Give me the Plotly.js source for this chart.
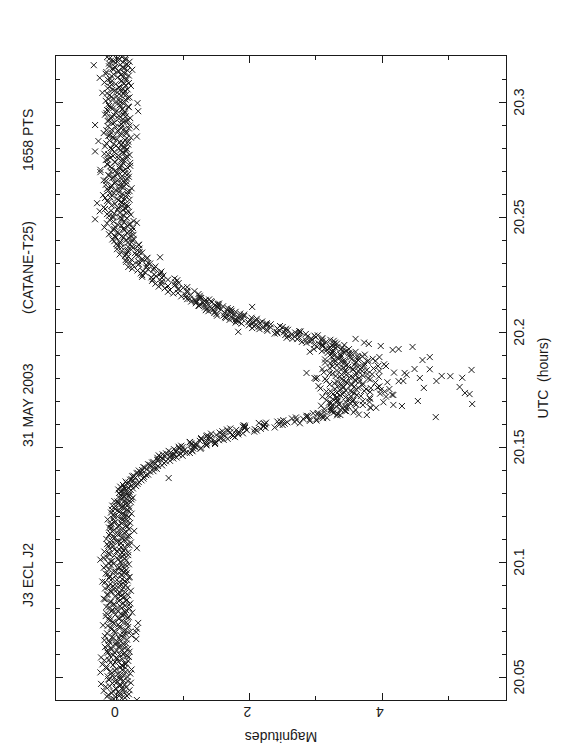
<!DOCTYPE html>
<html><head><meta charset="utf-8">
<script src="https://cdn.plot.ly/plotly-3.0.1.min.js"></script>
<style>
html,body{margin:0;padding:0;width:562px;height:756px;overflow:hidden;background:#fff}
#wrap{position:absolute;left:0;top:0;width:756px;height:562px;transform-origin:0 0;transform:translate(0px,756px) rotate(-90deg);}
</style></head><body>
<div id="wrap"><div id="plot" style="width:756px;height:562px"></div></div>
<script>
// Header texts
const headerText = ['J3 ECL J2', '31 MAY 2003', '(CATANE-T25)', '1658 PTS'];
const headerPos = [0.194, 0.458, 0.671, 0.870];

// Axis ticks
const utcTicks = [20.05, 20.1, 20.15, 20.2, 20.25, 20.3];
const utcTickText = ['20.05', '20.1', '20.15', '20.2', '20.25', '20.3'];
const magTicks = [0, 2, 4];
const magTickText = ['0', '2', '4'];

// Pre-eclipse baseline (set A)
const utcPre = [20.04,20.0405,20.041,20.0415,20.042,20.0425,20.043,20.0435,20.044,20.0445,
20.045,20.0455,20.046,20.0465,20.047,20.0475,20.048,20.0485,20.049,20.0495,
20.05,20.0505,20.051,20.0515,20.052,20.0525,20.053,20.0535,20.054,20.0545,
20.055,20.0555,20.056,20.0565,20.057,20.0575,20.058,20.0585,20.059,20.0595,
20.06,20.0605,20.061,20.0615,20.062,20.0625,20.063,20.0635,20.064,20.0645,
20.065,20.0655,20.066,20.0665,20.067,20.0675,20.068,20.0685,20.069,20.0695,
20.07,20.0705,20.071,20.0715,20.072,20.0725,20.073,20.0735,20.074,20.0745,
20.075,20.0755,20.076,20.0765,20.077,20.0775,20.078,20.0785,20.079,20.0795,
20.08,20.0805,20.081,20.0815,20.082,20.0825,20.083,20.0835,20.084,20.0845,
20.085,20.0855,20.086,20.0865,20.087,20.0875,20.088,20.0885,20.089,20.0895,
20.09,20.0905,20.091,20.0915,20.092,20.0925,20.093,20.0935,20.094,20.0945,
20.095,20.0955,20.096,20.0965,20.097,20.0975,20.098,20.0985,20.099,20.0995,
20.1,20.1005,20.101,20.1015,20.102,20.1025,20.103,20.1035,20.104,20.1045,
20.105,20.1055,20.106,20.1065,20.107,20.1075,20.108,20.1085,20.109,20.1095,
20.11,20.1105,20.111,20.1115,20.112,20.1125,20.113,20.1135,20.114,20.1145,
20.115,20.1155,20.116,20.1165,20.117,20.1175,20.118,20.1185,20.119,20.1195,
20.12,20.1205,20.121,20.1215,20.122,20.1225,20.123,20.1235,20.124,20.1245,
20.125,20.1255,20.126,20.1265,20.127,20.1275,20.128,20.1285,20.129,20.1295];
const magPre = [0.30,-0.05,0.12,-0.15,0.04,0.18,-0.08,0.02,-0.20,0.09,
-0.02,0.14,-0.11,0.06,-0.24,0.21,-0.04,0.10,-0.13,0.03,
0.16,-0.07,0.05,0.20,-0.25,-0.10,0.08,-0.01,0.13,-0.16,
0.07,-0.22,0.11,-0.03,0.17,-0.12,0.01,-0.24,0.15,-0.06,
0.09,-0.14,0.19,0.00,-0.09,0.12,-0.18,0.05,-0.02,0.14,
-0.11,0.06,-0.19,0.29,0.03,-0.07,0.22,0.10,-0.15,0.29,
-0.04,0.13,0.30,-0.09,0.04,-0.21,0.16,0.32,-0.06,0.08,
-0.13,0.02,0.18,-0.17,0.11,0.06,0.23,-0.08,0.14,-0.01,
0.07,-0.16,0.12,-0.05,0.20,-0.11,0.03,0.15,-0.20,0.09,
-0.03,0.17,-0.14,0.05,-0.08,0.21,0.00,-0.18,0.10,-0.06,
0.13,-0.10,0.04,-0.22,0.16,0.08,-0.12,0.19,-0.02,0.06,
-0.17,0.11,-0.05,0.14,0.02,-0.20,0.09,-0.09,0.18,-0.13,
0.05,-0.07,-0.25,0.12,-0.15,0.03,0.17,-0.11,0.08,-0.19,
0.10,-0.04,0.30,0.06,-0.13,0.15,-0.08,0.21,-0.01,0.11,
-0.16,0.07,-0.06,0.19,0.01,-0.10,0.14,0.26,-0.04,0.09,
-0.12,0.16,0.03,-0.08,0.20,-0.02,0.12,-0.14,0.07,0.18,
-0.05,0.10,0.22,-0.09,0.04,0.15,-0.03,0.19,0.08,-0.07,
0.13,0.02,0.21,-0.04,0.16,0.07,0.24,0.11,0.05,0.19];

// Pre-eclipse baseline (set B, interleaved)
const utcPreB = [20.04025,20.04075,20.04125,20.04175,20.04225,20.04275,20.04325,20.04375,20.04425,20.04475,
20.04525,20.04575,20.04625,20.04675,20.04725,20.04775,20.04825,20.04875,20.04925,20.04975,
20.05025,20.05075,20.05125,20.05175,20.05225,20.05275,20.05325,20.05375,20.05425,20.05475,
20.05525,20.05575,20.05625,20.05675,20.05725,20.05775,20.05825,20.05875,20.05925,20.05975,
20.06025,20.06075,20.06125,20.06175,20.06225,20.06275,20.06325,20.06375,20.06425,20.06475,
20.06525,20.06575,20.06625,20.06675,20.06725,20.06775,20.06825,20.06875,20.06925,20.06975,
20.07025,20.07075,20.07125,20.07175,20.07225,20.07275,20.07325,20.07375,20.07425,20.07475,
20.07525,20.07575,20.07625,20.07675,20.07725,20.07775,20.07825,20.07875,20.07925,20.07975,
20.08025,20.08075,20.08125,20.08175,20.08225,20.08275,20.08325,20.08375,20.08425,20.08475,
20.08525,20.08575,20.08625,20.08675,20.08725,20.08775,20.08825,20.08875,20.08925,20.08975,
20.09025,20.09075,20.09125,20.09175,20.09225,20.09275,20.09325,20.09375,20.09425,20.09475,
20.09525,20.09575,20.09625,20.09675,20.09725,20.09775,20.09825,20.09875,20.09925,20.09975,
20.10025,20.10075,20.10125,20.10175,20.10225,20.10275,20.10325,20.10375,20.10425,20.10475,
20.10525,20.10575,20.10625,20.10675,20.10725,20.10775,20.10825,20.10875,20.10925,20.10975,
20.11025,20.11075,20.11125,20.11175,20.11225,20.11275,20.11325,20.11375,20.11425,20.11475,
20.11525,20.11575,20.11625,20.11675,20.11725,20.11775,20.11825,20.11875,20.11925,20.11975,
20.12025,20.12075,20.12125,20.12175,20.12225,20.12275,20.12325,20.12375,20.12425,20.12475,
20.12525,20.12575,20.12625,20.12675,20.12725,20.12775,20.12825,20.12875,20.12925,20.12975];
const magPreB = [-0.09,0.07,-0.02,0.15,-0.13,0.04,0.11,-0.06,0.19,-0.01,
0.08,-0.17,0.03,0.12,-0.07,0.00,0.16,-0.12,0.06,-0.04,
-0.14,0.10,0.01,-0.08,0.13,-0.03,0.22,-0.16,0.05,0.09,
-0.06,0.14,-0.10,0.02,-0.19,0.08,-0.01,0.18,-0.11,0.04,
0.12,-0.04,-0.15,0.07,0.17,-0.09,0.03,-0.13,0.10,-0.02,
0.01,-0.12,0.15,-0.06,0.09,-0.18,0.05,0.13,-0.03,0.20,
0.11,-0.08,0.04,0.17,-0.14,0.02,-0.05,0.14,0.07,-0.10,
0.03,0.16,-0.11,0.08,-0.02,-0.16,0.12,0.01,-0.07,0.19,
-0.12,0.05,0.18,-0.04,0.09,-0.09,0.14,-0.18,0.02,0.11,
0.06,-0.15,0.01,0.13,-0.10,0.07,-0.05,0.16,-0.13,0.04,
-0.03,0.09,-0.18,0.12,0.00,-0.07,0.18,-0.11,0.08,-0.14,
0.15,-0.02,0.07,-0.12,0.11,0.03,-0.16,0.13,-0.05,0.06,
-0.09,0.14,0.02,-0.20,0.08,-0.04,0.10,-0.13,0.17,0.00,
0.04,-0.11,0.12,-0.06,0.19,-0.15,0.06,0.02,-0.08,0.15,
0.09,-0.03,0.16,-0.12,0.05,0.11,-0.07,0.03,0.18,-0.09,
0.02,0.13,-0.10,0.07,-0.04,0.16,0.08,-0.06,0.12,0.01,
0.14,-0.05,0.09,0.03,0.18,-0.08,0.11,0.06,-0.02,0.16,
0.07,0.15,0.01,0.12,0.22,0.04,0.10,0.18,0.14,0.09];

// Start of ingress (sets A and B)
const utcIngress = [20.13,20.1305,20.131,20.1315,20.132,20.1325,20.133,20.1335,20.134,20.1345,
20.135,20.1355,20.136,20.1365,20.137,20.1375,20.138,20.1385,20.139,20.1395,
20.14,20.1405,20.141,20.1415,20.142,20.1425,20.143,20.1435,20.144,20.1445];
const magIngress = [0.03,0.19,0.08,0.02,0.24,0.11,0.29,0.09,0.31,0.18,
0.13,0.37,0.22,0.78,0.41,0.25,0.47,0.30,0.36,0.55,
0.38,0.60,0.42,0.51,0.68,0.47,0.71,0.55,0.80,0.62];
const utcIngressB = [20.13025,20.13075,20.13125,20.13175,20.13225,20.13275,20.13325,20.13375,20.13425,20.13475,
20.13525,20.13575,20.13625,20.13675,20.13725,20.13775,20.13825,20.13875,20.13925,20.13975,
20.14025,20.14075,20.14125,20.14175,20.14225,20.14275,20.14325,20.14375,20.14425,20.14475];
const magIngressB = [0.14,0.06,0.21,0.12,0.17,0.05,0.22,0.26,0.15,0.33,
0.24,0.20,0.40,0.28,0.23,0.44,0.36,0.31,0.50,0.33,
0.45,0.56,0.40,0.62,0.50,0.58,0.53,0.74,0.61,0.70];

// Steep ingress, minimum and steep egress (set A)
const utcCore = [20.145,20.1453,20.1456,20.1459,20.1462,20.1465,20.1468,20.1471,20.1474,20.1477,
20.148,20.1483,20.1486,20.1489,20.1492,20.1495,20.1498,20.1501,20.1504,20.1507,
20.151,20.1513,20.1516,20.1519,20.1522,20.1525,20.1528,20.1531,20.1534,20.1537,
20.154,20.1543,20.1546,20.1549,20.1552,20.1555,20.1558,20.1561,20.1564,20.1567,
20.157,20.1573,20.1576,20.1579,20.1582,20.1585,20.1588,20.1591,20.1594,20.1597,
20.16,20.1603,20.1606,20.1609,20.1612,20.1615,20.1618,20.1621,20.1624,20.1627,
20.163,20.1633,20.1636,20.1639,20.1642,20.1645,20.1648,20.1651,20.1654,20.1657,
20.166,20.1663,20.1666,20.1669,20.1672,20.1675,20.1678,20.1681,20.1684,20.1687,
20.169,20.1693,20.1696,20.1699,20.1702,20.1705,20.1708,20.1711,20.1714,20.1717,
20.172,20.1723,20.1726,20.1729,20.1732,20.1735,20.1738,20.1741,20.1744,20.1747,
20.175,20.1753,20.1756,20.1759,20.1762,20.1765,20.1768,20.1771,20.1774,20.1777,
20.178,20.1783,20.1786,20.1789,20.1792,20.1795,20.1798,20.1801,20.1804,20.1807,
20.181,20.1813,20.1816,20.1819,20.1822,20.1825,20.1828,20.1831,20.1834,20.1837,
20.184,20.1843,20.1846,20.1849,20.1852,20.1855,20.1858,20.1861,20.1864,20.1867,
20.187,20.1873,20.1876,20.1879,20.1882,20.1885,20.1888,20.1891,20.1894,20.1897,
20.19,20.1903,20.1906,20.1909,20.1912,20.1915,20.1918,20.1921,20.1924,20.1927,
20.193,20.1933,20.1936,20.1939,20.1942,20.1945,20.1948,20.1951,20.1954,20.1957,
20.196,20.1963,20.1966,20.1969,20.1972,20.1975,20.1978,20.1981,20.1984,20.1987,
20.199,20.1993,20.1996,20.1999,20.2002,20.2005,20.2008,20.2011,20.2014,20.2017,
20.202,20.2023,20.2026,20.2029,20.2032,20.2035,20.2038,20.2041,20.2044,20.2047,
20.205,20.2053,20.2056,20.2059,20.2062,20.2065,20.2068,20.2071,20.2074,20.2077,
20.208,20.2083,20.2086,20.2089,20.2092,20.2095,20.2098,20.2101,20.2104,20.2107,
20.211,20.2113,20.2116,20.2119,20.2122,20.2125,20.2128,20.2131,20.2134,20.2137,
20.214,20.2143,20.2146];
const magCore = [0.85,0.61,0.80,0.72,0.99,0.81,0.69,0.96,1.10,0.81,
1.00,0.78,1.13,0.98,1.26,0.94,1.18,0.93,1.16,1.35,
1.12,1.48,1.12,1.35,1.10,1.48,1.35,1.61,1.27,1.56,
1.42,1.78,1.35,1.63,1.50,1.83,1.42,1.83,1.71,2.07,
1.67,1.96,1.66,2.17,1.93,2.38,1.90,2.22,1.91,2.45,
2.23,2.76,2.25,2.68,2.47,3.01,2.71,3.01,2.64,3.17,
2.86,3.11,2.86,3.37,3.08,3.33,3.03,3.57,3.24,3.44,
3.25,3.37,3.23,3.46,3.82,3.31,3.45,3.24,3.61,3.36,
3.52,3.20,3.45,3.71,3.33,3.57,3.26,3.49,3.81,3.32,
3.53,3.19,3.62,3.40,3.97,3.32,3.54,3.16,3.73,3.45,
3.61,3.29,3.83,3.41,3.58,3.04,3.70,3.39,3.54,3.28,
3.90,3.46,3.66,3.16,3.59,3.39,3.79,3.02,3.55,3.36,
3.71,3.46,3.85,3.25,3.61,3.12,3.65,3.44,3.77,3.38,
3.56,3.21,3.69,3.49,3.94,3.32,3.58,3.42,3.73,3.14,
3.61,3.44,3.79,3.27,3.54,3.35,3.64,3.38,3.70,3.28,
3.51,3.37,3.54,3.18,3.42,3.25,3.46,3.26,3.38,3.15,
3.30,3.22,3.33,3.11,3.24,2.98,3.27,3.04,3.29,2.79,
3.10,2.85,3.22,2.72,2.93,2.56,3.00,2.68,2.98,2.54,
2.74,2.38,2.75,2.52,2.77,2.27,2.54,2.26,2.55,2.04,
2.32,2.14,2.46,1.99,2.26,2.04,2.26,1.79,2.06,1.83,
2.10,1.70,1.89,1.75,2.03,1.63,1.87,1.51,1.77,1.65,
1.86,1.47,1.71,1.48,1.73,1.34,1.57,1.43,1.67,1.33,
1.52,1.24,1.53,1.33,1.52,1.19,1.34,1.19,1.42,1.19,
1.34,1.06,1.25];

// Steep ingress, minimum and steep egress (set B, interleaved)
const utcCoreB = [20.14515,20.14545,20.14575,20.14605,20.14635,20.14665,20.14695,20.14725,20.14755,20.14785,
20.14815,20.14845,20.14875,20.14905,20.14935,20.14965,20.14995,20.15025,20.15055,20.15085,
20.15115,20.15145,20.15175,20.15205,20.15235,20.15265,20.15295,20.15325,20.15355,20.15385,
20.15415,20.15445,20.15475,20.15505,20.15535,20.15565,20.15595,20.15625,20.15655,20.15685,
20.15715,20.15745,20.15775,20.15805,20.15835,20.15865,20.15895,20.15925,20.15955,20.15985,
20.16015,20.16045,20.16075,20.16105,20.16135,20.16165,20.16195,20.16225,20.16255,20.16285,
20.16315,20.16345,20.16375,20.16405,20.16435,20.16465,20.16495,20.16525,20.16555,20.16585,
20.16615,20.16645,20.16675,20.16705,20.16735,20.16765,20.16795,20.16825,20.16855,20.16885,
20.16915,20.16945,20.16975,20.17005,20.17035,20.17065,20.17095,20.17125,20.17155,20.17185,
20.17215,20.17245,20.17275,20.17305,20.17335,20.17365,20.17395,20.17425,20.17455,20.17485,
20.17515,20.17545,20.17575,20.17605,20.17635,20.17665,20.17695,20.17725,20.17755,20.17785,
20.17815,20.17845,20.17875,20.17905,20.17935,20.17965,20.17995,20.18025,20.18055,20.18085,
20.18115,20.18145,20.18175,20.18205,20.18235,20.18265,20.18295,20.18325,20.18355,20.18385,
20.18415,20.18445,20.18475,20.18505,20.18535,20.18565,20.18595,20.18625,20.18655,20.18685,
20.18715,20.18745,20.18775,20.18805,20.18835,20.18865,20.18895,20.18925,20.18955,20.18985,
20.19015,20.19045,20.19075,20.19105,20.19135,20.19165,20.19195,20.19225,20.19255,20.19285,
20.19315,20.19345,20.19375,20.19405,20.19435,20.19465,20.19495,20.19525,20.19555,20.19585,
20.19615,20.19645,20.19675,20.19705,20.19735,20.19765,20.19795,20.19825,20.19855,20.19885,
20.19915,20.19945,20.19975,20.20005,20.20035,20.20065,20.20095,20.20125,20.20155,20.20185,
20.20215,20.20245,20.20275,20.20305,20.20335,20.20365,20.20395,20.20425,20.20455,20.20485,
20.20515,20.20545,20.20575,20.20605,20.20635,20.20665,20.20695,20.20725,20.20755,20.20785,
20.20815,20.20845,20.20875,20.20905,20.20935,20.20965,20.20995,20.21025,20.21055,20.21085,
20.21115,20.21145,20.21175,20.21205,20.21235,20.21265,20.21295,20.21325,20.21355,20.21385,
20.21415,20.21445,20.21475];
const magCoreB = [0.68,0.90,0.65,0.85,0.63,0.93,0.86,0.74,1.05,0.89,
1.14,0.89,1.02,0.86,1.15,1.27,0.99,1.18,0.97,1.20,
1.35,1.18,1.48,1.10,1.42,1.25,1.54,1.39,1.67,1.27,
1.57,1.39,1.75,1.36,1.74,1.59,1.90,1.55,1.84,1.59,
2.11,1.80,2.08,1.71,2.24,1.93,2.21,1.93,2.50,2.23,
2.53,2.14,2.57,2.42,2.91,2.51,2.91,2.81,3.11,2.70,
3.09,2.88,3.32,3.03,3.33,2.96,3.27,3.13,3.46,3.22,
3.60,3.13,3.41,3.91,3.23,3.49,3.08,3.71,3.34,3.59,
3.23,4.02,3.33,3.56,3.16,3.51,3.82,3.31,3.45,3.10,
3.68,3.37,4.15,3.26,3.58,3.43,3.82,3.22,3.53,3.36,
3.76,3.07,3.64,3.42,3.96,3.34,3.54,3.21,3.71,3.47,
4.08,3.32,3.60,3.42,3.82,3.14,3.65,3.51,3.95,3.30,
3.60,3.39,3.78,3.21,4.18,3.46,3.70,3.32,3.56,3.10,
3.87,3.42,3.64,3.25,3.73,3.47,4.03,3.34,3.60,3.27,
3.78,3.41,3.64,3.14,3.86,3.33,3.52,3.24,3.63,3.38,
3.74,3.23,3.50,3.26,3.60,3.09,3.41,3.17,3.50,3.20,
3.40,3.02,3.27,3.09,3.43,3.10,3.32,2.86,3.15,2.91,
3.27,2.94,3.09,2.65,3.10,2.75,2.87,2.58,3.03,2.63,
2.85,2.42,2.69,2.41,2.75,2.45,2.58,2.15,2.42,2.20,
2.50,2.07,2.25,2.09,2.32,1.88,2.16,1.98,2.19,1.80,
2.01,1.79,2.11,1.64,1.83,1.72,1.92,1.61,1.92,1.50,
1.73,1.62,1.79,1.38,1.67,1.45,1.72,1.36,1.52,1.41,
1.60,1.23,1.48,1.25,1.54,1.30,1.43,1.12,1.33,1.17,
1.39,1.10,1.27];

// End of egress (sets A and B)
const utcEgress = [20.215,20.2155,20.216,20.2165,20.217,20.2175,20.218,20.2185,20.219,20.2195,
20.22,20.2205,20.221,20.2215,20.222,20.2225,20.223,20.2235,20.224,20.2245,
20.225,20.2255,20.226,20.2265,20.227,20.2275,20.228,20.2285,20.229,20.2295,
20.23,20.2305,20.231,20.2315,20.232,20.2325,20.233,20.2335,20.234,20.2345,
20.235,20.2355,20.236,20.2365,20.237,20.2375,20.238,20.2385,20.239,20.2395,
20.24,20.2405,20.241,20.2415,20.242,20.2425,20.243,20.2435,20.244,20.2445,
20.245,20.2455,20.246,20.2465,20.247,20.2475,20.248,20.2485,20.249,20.2495];
const magEgress = [1.25,0.97,1.11,1.23,0.92,0.77,1.06,0.92,0.72,1.06,
0.77,0.88,0.58,0.88,0.68,0.91,0.54,0.68,0.38,0.70,
0.56,0.36,0.66,0.39,0.55,0.23,0.44,0.58,0.24,0.33,
0.47,0.14,0.38,0.22,0.45,0.65,0.12,0.29,0.14,0.38,
0.16,0.31,0.00,0.24,0.17,0.01,0.33,0.05,0.22,-0.04,
0.14,0.25,-0.02,0.07,0.21,-0.12,0.15,0.01,0.23,-0.06,
0.10,-0.19,0.16,0.02,0.20,0.30,-0.05,0.06,-0.33,0.15];
const utcEgressB = [20.21525,20.21575,20.21625,20.21675,20.21725,20.21775,20.21825,20.21875,20.21925,20.21975,
20.22025,20.22075,20.22125,20.22175,20.22225,20.22275,20.22325,20.22375,20.22425,20.22475,
20.22525,20.22575,20.22625,20.22675,20.22725,20.22775,20.22825,20.22875,20.22925,20.22975,
20.23025,20.23075,20.23125,20.23175,20.23225,20.23275,20.23325,20.23375,20.23425,20.23475,
20.23525,20.23575,20.23625,20.23675,20.23725,20.23775,20.23825,20.23875,20.23925,20.23975,
20.24025,20.24075,20.24125,20.24175,20.24225,20.24275,20.24325,20.24375,20.24425,20.24475,
20.24525,20.24575,20.24625,20.24675,20.24725,20.24775,20.24825,20.24875,20.24925,20.24975];
const magEgressB = [1.04,1.25,1.03,0.85,1.06,1.17,0.80,0.93,1.00,0.63,
0.87,0.67,0.93,0.67,0.53,0.77,0.87,0.52,0.59,0.38,
0.65,0.43,0.67,0.31,0.47,0.56,0.17,0.45,0.32,0.50,
0.20,0.32,0.13,0.38,0.46,0.17,0.33,0.04,0.27,0.34,
0.07,0.16,0.34,0.07,0.23,0.33,-0.01,0.16,0.05,0.24,
-0.07,0.18,0.10,-0.03,0.25,0.03,-0.09,0.18,0.11,-0.04,
0.24,-0.03,0.07,0.18,-0.15,0.11,0.25,-0.11,0.07,-0.06];

// Post-eclipse baseline (set A)
const utcPost = [20.25,20.2505,20.251,20.2515,20.252,20.2525,20.253,20.2535,20.254,20.2545,
20.255,20.2555,20.256,20.2565,20.257,20.2575,20.258,20.2585,20.259,20.2595,
20.26,20.2605,20.261,20.2615,20.262,20.2625,20.263,20.2635,20.264,20.2645,
20.265,20.2655,20.266,20.2665,20.267,20.2675,20.268,20.2685,20.269,20.2695,
20.27,20.2705,20.271,20.2715,20.272,20.2725,20.273,20.2735,20.274,20.2745,
20.275,20.2755,20.276,20.2765,20.277,20.2775,20.278,20.2785,20.279,20.2795,
20.28,20.2805,20.281,20.2815,20.282,20.2825,20.283,20.2835,20.284,20.2845,
20.285,20.2855,20.286,20.2865,20.287,20.2875,20.288,20.2885,20.289,20.2895,
20.29,20.2905,20.291,20.2915,20.292,20.2925,20.293,20.2935,20.294,20.2945,
20.295,20.2955,20.296,20.2965,20.297,20.2975,20.298,20.2985,20.299,20.2995,
20.3,20.3005,20.301,20.3015,20.302,20.3025,20.303,20.3035,20.304,20.3045,
20.305,20.3055,20.306,20.3065,20.307,20.3075,20.308,20.3085,20.309,20.3095,
20.31,20.3105,20.311,20.3115,20.312,20.3125,20.313,20.3135,20.314,20.3145,
20.315,20.3155,20.316,20.3165,20.317,20.3175,20.318,20.3185,20.319,20.3195];
const magPost = [0.05,-0.12,0.21,-0.04,0.14,-0.26,0.09,-0.18,0.02,0.17,
-0.08,0.11,-0.30,0.06,-0.15,0.19,0.00,-0.10,0.13,-0.21,
0.08,-0.05,0.16,-0.13,0.03,0.22,-0.09,0.10,-0.17,0.05,
-0.02,0.14,-0.20,0.07,-0.07,0.18,-0.12,0.01,0.12,-0.25,
0.09,-0.25,0.04,0.16,-0.10,0.06,-0.15,0.20,-0.03,0.11,
-0.14,0.02,0.13,-0.06,0.19,-0.19,0.08,-0.33,0.05,0.15,
-0.09,0.10,-0.01,0.17,-0.16,0.04,-0.28,0.12,-0.05,0.21,
0.30,-0.11,0.07,-0.20,0.14,0.01,-0.08,0.18,0.29,-0.14,
-0.33,0.06,-0.04,0.15,-0.12,0.09,0.20,-0.07,0.03,-0.18,
0.12,-0.02,0.32,-0.15,0.08,-0.09,0.17,0.04,-0.13,0.31,
0.05,-0.17,0.13,-0.06,0.19,0.00,-0.11,0.10,-0.22,0.07,
-0.04,0.16,-0.14,0.03,0.21,-0.08,0.11,-0.19,0.06,0.14,
-0.10,-0.26,0.09,0.18,-0.05,0.12,-0.16,0.02,0.23,-0.07,
0.08,-0.12,-0.35,0.15,-0.02,0.19,-0.09,0.04,0.13,-0.15];

// Post-eclipse baseline (set B, interleaved)
const utcPostB = [20.25025,20.25075,20.25125,20.25175,20.25225,20.25275,20.25325,20.25375,20.25425,20.25475,
20.25525,20.25575,20.25625,20.25675,20.25725,20.25775,20.25825,20.25875,20.25925,20.25975,
20.26025,20.26075,20.26125,20.26175,20.26225,20.26275,20.26325,20.26375,20.26425,20.26475,
20.26525,20.26575,20.26625,20.26675,20.26725,20.26775,20.26825,20.26875,20.26925,20.26975,
20.27025,20.27075,20.27125,20.27175,20.27225,20.27275,20.27325,20.27375,20.27425,20.27475,
20.27525,20.27575,20.27625,20.27675,20.27725,20.27775,20.27825,20.27875,20.27925,20.27975,
20.28025,20.28075,20.28125,20.28175,20.28225,20.28275,20.28325,20.28375,20.28425,20.28475,
20.28525,20.28575,20.28625,20.28675,20.28725,20.28775,20.28825,20.28875,20.28925,20.28975,
20.29025,20.29075,20.29125,20.29175,20.29225,20.29275,20.29325,20.29375,20.29425,20.29475,
20.29525,20.29575,20.29625,20.29675,20.29725,20.29775,20.29825,20.29875,20.29925,20.29975,
20.30025,20.30075,20.30125,20.30175,20.30225,20.30275,20.30325,20.30375,20.30425,20.30475,
20.30525,20.30575,20.30625,20.30675,20.30725,20.30775,20.30825,20.30875,20.30925,20.30975,
20.31025,20.31075,20.31125,20.31175,20.31225,20.31275,20.31325,20.31375,20.31425,20.31475,
20.31525,20.31575,20.31625,20.31675,20.31725,20.31775,20.31825,20.31875,20.31925,20.31975];
const magPostB = [-0.06,0.10,-0.15,0.04,0.18,-0.09,0.01,0.13,-0.20,0.07,
0.15,-0.03,0.08,-0.12,0.02,0.12,-0.18,0.06,-0.07,0.16,
-0.11,0.03,0.19,-0.02,-0.15,0.09,0.05,-0.08,0.14,-0.04,
0.11,-0.16,0.02,0.15,-0.05,0.08,-0.13,0.17,0.00,-0.09,
-0.02,0.13,-0.08,0.05,0.20,-0.14,0.10,-0.03,0.07,-0.17,
0.08,-0.10,0.16,0.02,-0.13,0.11,-0.04,0.14,-0.08,0.03,
0.12,-0.18,0.06,-0.05,0.09,0.17,-0.11,0.00,0.15,-0.06,
-0.13,0.04,0.14,-0.09,0.02,-0.16,0.11,0.06,-0.02,0.19,
0.07,-0.07,0.10,-0.14,0.16,0.03,-0.10,0.13,-0.04,0.09,
-0.16,0.12,0.00,0.08,-0.06,0.18,-0.12,0.05,0.10,-0.03,
0.10,0.03,-0.13,0.16,-0.08,0.06,0.14,-0.15,0.01,0.12,
-0.07,0.09,0.04,-0.11,0.13,-0.02,0.18,-0.09,0.07,-0.14,
0.14,0.01,-0.08,0.06,-0.17,0.10,0.03,0.16,-0.05,0.11,
-0.03,0.17,0.05,-0.12,0.09,-0.06,0.13,0.00,-0.10,0.07];

// Noisy points scattered around the minimum
const utcScatter = [20.1939,20.1922,20.1926,20.1935,20.1878,20.1891,20.1839,20.1838,20.18,20.1787,
20.1809,20.1808,20.1801,20.1835,20.1761,20.1735,20.173,20.1687,20.1757,20.17,
20.163,20.1683,20.1678,20.1641,20.1639,20.167,20.1696,20.1719,20.1726,20.1741,
20.1748,20.1759,20.1787,20.1814,20.1822,20.1786,20.1752,20.183,20.1852,20.1874,
20.1891,20.1948,20.1954,20.197,20.1822,20.18,20.1796,20.1865,20.1914,20.1926,
20.2001,20.2109];
const magScatter = [3.98,4.16,4.25,4.46,4.61,4.72,4.49,4.72,4.57,4.82,
4.90,5.03,5.21,5.35,5.17,5.25,5.32,5.36,4.63,4.54,
4.81,4.17,4.30,3.65,3.77,3.83,3.81,4.06,4.17,4.04,
3.98,3.93,4.32,4.37,4.34,4.25,4.11,3.96,4.06,3.90,
3.96,3.80,3.73,3.60,2.86,2.98,3.00,3.22,2.91,2.97,
1.83,2.04];

const utc = [].concat(utcPre, utcPreB, utcIngress, utcIngressB, utcCore, utcCoreB,
  utcEgress, utcEgressB, utcPost, utcPostB, utcScatter);
const mag = [].concat(magPre, magPreB, magIngress, magIngressB, magCore, magCoreB,
  magEgress, magEgressB, magPost, magPostB, magScatter);

const ink = '#1a1a1a';
const fam = '"Liberation Sans", Arial, Helvetica, sans-serif';

const trace = {
  type: 'scatter', mode: 'markers', x: utc, y: mag, hoverinfo: 'skip',
  marker: {symbol: 'x-thin-open', size: 6, color: ink, line: {width: 1, color: ink}}
};

const axisCommon = {
  showgrid: false, zeroline: false, showline: true, linecolor: ink, linewidth: 1,
  mirror: 'ticks', ticks: 'inside', ticklen: 7, tickwidth: 1, tickcolor: ink,
  tickfont: {family: fam, size: 14, color: ink}
};

const layout = {
  width: 756, height: 562,
  margin: {l: 56, r: 56, t: 56, b: 56, pad: 0},
  paper_bgcolor: '#fff', plot_bgcolor: '#fff', showlegend: false,
  font: {family: fam, size: 14, color: ink},
  xaxis: Object.assign({}, axisCommon, {
    range: [20.04, 20.32], tickmode: 'array', tickvals: utcTicks, ticktext: utcTickText,
    minor: {tickmode: 'linear', tick0: 20.04, dtick: 0.01, ticks: 'inside', ticklen: 4, tickcolor: ink, showgrid: false},
    title: {text: 'UTC\u00a0 (hours)', font: {family: fam, size: 14, color: ink}, standoff: 12}
  }),
  yaxis: Object.assign({}, axisCommon, {
    range: [5.87, -0.92], tickmode: 'array', tickvals: magTicks, ticktext: magTickText, tickangle: -90,
    minor: {tickmode: 'linear', tick0: 0, dtick: 1, ticks: 'inside', ticklen: 4, tickcolor: ink, showgrid: false},
    title: {text: 'Magnitudes', font: {family: fam, size: 14, color: ink}, standoff: 8}
  }),
  annotations: headerText.map((t, i) => ({
    text: t, xref: 'paper', yref: 'paper', x: headerPos[i], y: 1.063,
    xanchor: 'center', yanchor: 'middle', showarrow: false,
    font: {family: fam, size: 14, color: ink}
  }))
};

Plotly.newPlot('plot', [trace], layout, {staticPlot: true, displayModeBar: false});
</script></body></html>
